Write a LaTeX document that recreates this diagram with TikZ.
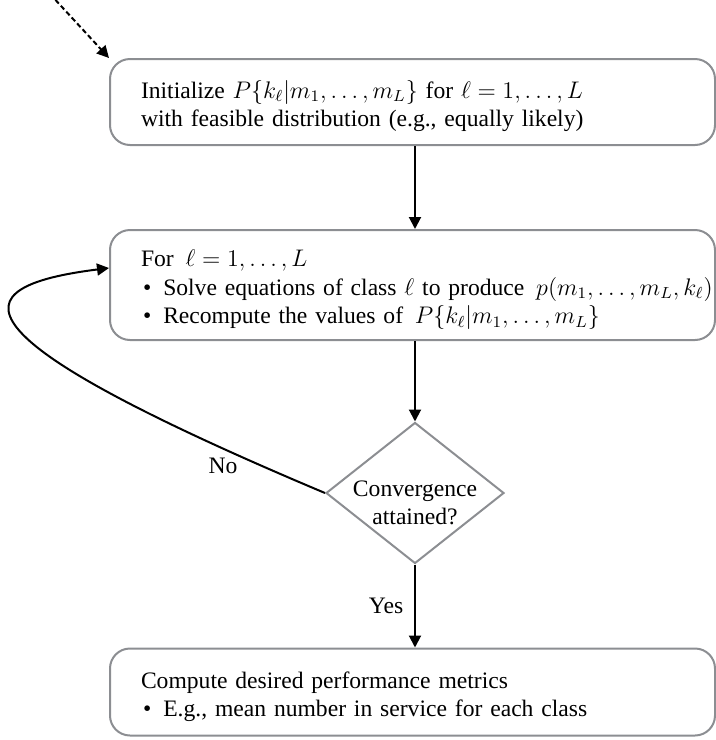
\documentclass[tikz,border=0pt]{standalone}
\usepackage[no-math]{fontspec}
\setmainfont{Liberation Serif}
\usepackage{amsmath}
\usepackage{tikz}
\usetikzlibrary{
	arrows.meta,
	shapes.geometric
}
\definecolor{boxgray}{RGB}{140,142,146}
\newcommand{\bitem}{\hspace{1pt}\textbullet\hspace{6pt}}

\begin{document}
\begin{tikzpicture}[x=0.5pt, y=-0.5pt, font=\fontsize{11.8}{14.25}\selectfont,
	box/.style={draw=boxgray, line width=1pt, rounded corners=10pt, align=left,
		text width=271.5pt, inner xsep=15.5pt, inner ysep=0pt,
		execute at begin node={\rule{0pt}{13pt}}},
	arr/.style={line width=1pt, -{Triangle[length=6pt,width=6pt]}}]
	\useasboundingbox (0,0) rectangle (716,740);

	\node[box, minimum height=43pt] (init) at (412.5,102)
		{Initialize $P\{k_\ell|m_1,\dots,m_L\}$ for $\ell=1,\dots,L$\\
		with feasible distribution (e.g., equally likely)};
	\node[box, minimum height=55pt] (loop) at (412.5,285)
		{For\, $\ell=1,\dots,L$\\
		\mbox{\bitem Solve equations of class $\ell$ to produce\, $p(m_1,\dots,m_L,k_\ell)$}\\
		\bitem Recompute the values of\, $P\{k_\ell|m_1,\dots,m_L\}$};
	\node[draw=boxgray, line width=1pt, diamond, inner sep=0pt,
		minimum width=89pt, minimum height=70.5pt] (conv) at (415,493) {};
	\node[align=center, yshift=-5pt] (convtext) at (conv) {Convergence\\attained?};
	\node[box, minimum height=43.5pt] (metrics) at (412.5,692)
		{Compute desired performance metrics\\
		\bitem E.g., mean number in service for each class};

	\coordinate (entry) at (50,-6);
	\draw[arr, dash pattern=on 2.5pt off 1.5pt] (entry) -- (init.north west);

	\draw[arr] (init.south -| conv) -- (loop.north -| conv);
	\draw[arr] (loop.south -| conv) -- (conv.north);
	\draw[arr] (conv.south) -- node[left=2pt] {Yes} (metrics.north -| conv);
	\draw[arr] (conv.west) .. controls (-53,334) and (-42,287) .. node[pos=0.1, below=1pt] {No} ([yshift=8.5pt]loop.west);

\end{tikzpicture}
\end{document}
